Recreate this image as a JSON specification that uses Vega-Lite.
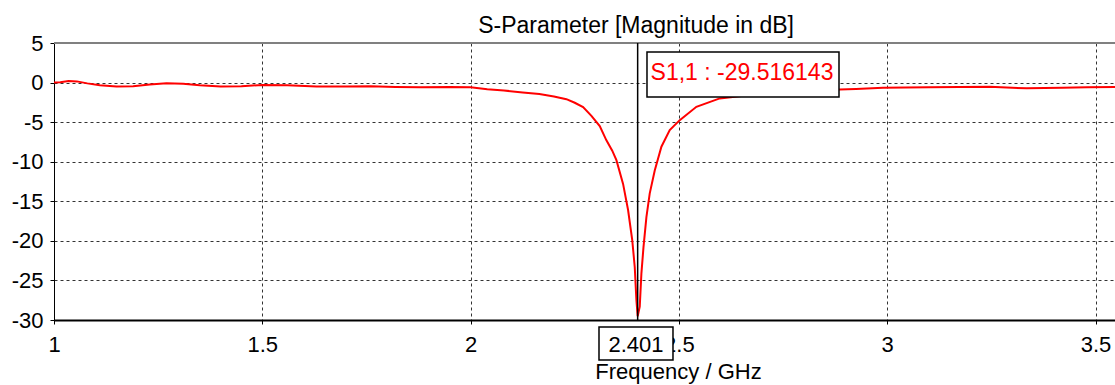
{
  "$schema": "https://vega.github.io/schema/vega-lite/v6.json",
  "autosize": {"type": "none"},
  "padding": {"left": 54, "top": 43, "right": 0, "bottom": 65},
  "width": 1061,
  "height": 277,
  "background": "#ffffff",
  "view": {"stroke": null},
  "title": {
    "text": "S-Parameter [Magnitude in dB]",
    "anchor": "start",
    "dx": 467,
    "dy": 24,
    "offset": 0,
    "baseline": "alphabetic",
    "font": "Liberation Sans",
    "fontSize": 23,
    "fontWeight": "normal",
    "color": "#000000"
  },
  "config": {
    "axis": {
      "labelFont": "Liberation Sans",
      "labelFontSize": 22,
      "labelColor": "#000000",
      "titleFont": "Liberation Sans",
      "titleFontSize": 22,
      "titleFontWeight": "normal",
      "titleColor": "#000000",
      "tickColor": "#000000",
      "tickSize": 4,
      "domainColor": "#000000",
      "gridColor": "#333333",
      "gridDash": [3, 3],
      "gridOpacity": 1,
      "gridWidth": 1,
      "labelFlush": false,
      "labelOverlap": false,
      "labelBound": false
    }
  },
  "datasets": {
    "curve": [
      {"f": 1.000, "db": 0.00}, {"f": 1.015, "db": 0.05}, {"f": 1.035, "db": 0.20}, {"f": 1.055, "db": 0.15},
      {"f": 1.080, "db": -0.10}, {"f": 1.110, "db": -0.35}, {"f": 1.150, "db": -0.50}, {"f": 1.190, "db": -0.45},
      {"f": 1.230, "db": -0.25}, {"f": 1.270, "db": -0.10}, {"f": 1.310, "db": -0.15}, {"f": 1.350, "db": -0.35},
      {"f": 1.400, "db": -0.50}, {"f": 1.450, "db": -0.45}, {"f": 1.500, "db": -0.30}, {"f": 1.560, "db": -0.35},
      {"f": 1.630, "db": -0.50}, {"f": 1.700, "db": -0.50}, {"f": 1.760, "db": -0.45}, {"f": 1.820, "db": -0.55},
      {"f": 1.880, "db": -0.60}, {"f": 1.950, "db": -0.55}, {"f": 2.000, "db": -0.60}, {"f": 2.040, "db": -0.85},
      {"f": 2.080, "db": -1.00}, {"f": 2.125, "db": -1.25}, {"f": 2.165, "db": -1.45}, {"f": 2.200, "db": -1.75},
      {"f": 2.230, "db": -2.10}, {"f": 2.250, "db": -2.55}, {"f": 2.270, "db": -3.10}, {"f": 2.290, "db": -4.20},
      {"f": 2.310, "db": -5.50}, {"f": 2.326, "db": -7.30}, {"f": 2.340, "db": -8.60}, {"f": 2.350, "db": -9.80},
      {"f": 2.366, "db": -12.80}, {"f": 2.378, "db": -16.10}, {"f": 2.388, "db": -19.90}, {"f": 2.394, "db": -23.30},
      {"f": 2.398, "db": -27.50}, {"f": 2.401, "db": -29.516}, {"f": 2.406, "db": -28.30}, {"f": 2.410, "db": -24.10},
      {"f": 2.415, "db": -20.80}, {"f": 2.422, "db": -17.00}, {"f": 2.430, "db": -14.00}, {"f": 2.442, "db": -11.10},
      {"f": 2.458, "db": -8.10}, {"f": 2.478, "db": -6.00}, {"f": 2.502, "db": -4.75}, {"f": 2.542, "db": -3.06},
      {"f": 2.598, "db": -2.00}, {"f": 2.650, "db": -1.70}, {"f": 2.700, "db": -1.50}, {"f": 2.760, "db": -1.25},
      {"f": 2.820, "db": -1.05}, {"f": 2.886, "db": -0.86}, {"f": 2.925, "db": -0.80}, {"f": 2.990, "db": -0.66},
      {"f": 3.100, "db": -0.58}, {"f": 3.246, "db": -0.53}, {"f": 3.300, "db": -0.65}, {"f": 3.335, "db": -0.73},
      {"f": 3.420, "db": -0.65}, {"f": 3.480, "db": -0.60}, {"f": 3.547, "db": -0.57}
    ],
    "topBorder": [
      {"f": 1, "f2": 3.5468, "db": 5}
    ],
    "marker": [
      {"f": 2.401, "db": 5, "db2": -30}
    ],
    "boxes": [
      {"f": 2.4234, "f2": 2.8843, "db": 3.87, "db2": -1.82},
      {"f": 2.3082, "f2": 2.4858, "db": -30.88, "db2": -35.05}
    ],
    "markerText": [
      {"f": 2.6515, "db": 0.33, "label": "S1,1 : -29.516143"}
    ],
    "freqText": [
      {"f": 2.397, "db": -34.0, "label": "2.401"}
    ]
  },
  "encoding": {
    "x": {
      "field": "f", "type": "quantitative",
      "scale": {"domain": [1, 3.5468], "nice": false, "zero": false},
      "axis": {
        "values": [1, 1.5, 2, 2.5, 3, 3.5],
        "labelExpr": "datum.value + ''",
        "title": "Frequency / GHz",
        "titleX": 624,
        "titleY": 58,
        "titleAlign": "center",
        "titleBaseline": "alphabetic",
        "labelPadding": 10,
        "domainWidth": 2
      }
    },
    "y": {
      "field": "db", "type": "quantitative",
      "scale": {"domain": [-30, 5], "nice": false, "zero": false},
      "axis": {
        "values": [5, 0, -5, -10, -15, -20, -25, -30],
        "labelExpr": "datum.value + ''",
        "title": null,
        "labelPadding": 7,
        "domainWidth": 1
      }
    }
  },
  "layer": [
    {
      "data": {"name": "curve"},
      "mark": {"type": "line", "color": "#ff0000", "strokeWidth": 2, "interpolate": "linear"}
    },
    {
      "data": {"name": "topBorder"},
      "mark": {"type": "rule", "color": "#808080", "strokeWidth": 2},
      "encoding": {"x2": {"field": "f2"}}
    },
    {
      "data": {"name": "marker"},
      "mark": {"type": "rule", "color": "#000000", "strokeWidth": 1.5},
      "encoding": {"y2": {"field": "db2"}}
    },
    {
      "data": {"name": "boxes"},
      "mark": {"type": "rect", "fill": "#ffffff", "stroke": "#000000", "strokeWidth": 1.5, "clip": false},
      "encoding": {"x2": {"field": "f2"}, "y2": {"field": "db2"}}
    },
    {
      "data": {"name": "markerText"},
      "mark": {"type": "text", "font": "Liberation Sans", "fontSize": 23, "color": "#ff0000", "align": "center", "baseline": "alphabetic"},
      "encoding": {"text": {"field": "label"}}
    },
    {
      "data": {"name": "freqText"},
      "mark": {"type": "text", "font": "Liberation Sans", "fontSize": 22, "color": "#000000", "align": "center", "baseline": "alphabetic"},
      "encoding": {"text": {"field": "label"}}
    }
  ]
}
